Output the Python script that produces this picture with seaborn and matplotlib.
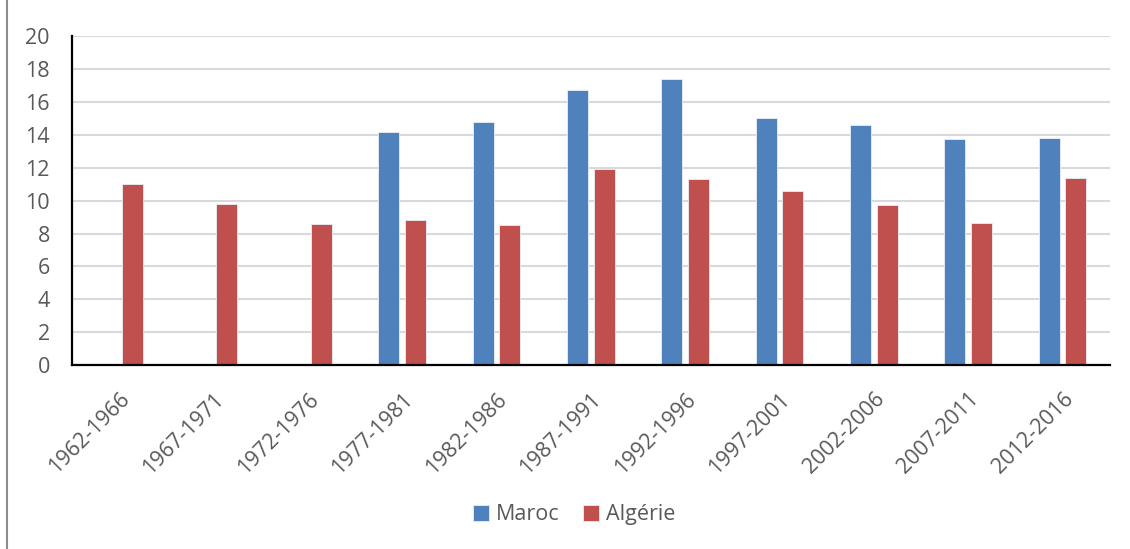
#!/usr/bin/env python3
from matplotlib import pyplot as plt
from matplotlib.lines import Line2D
import numpy as np
import pandas
import seaborn

periods = ['1962-1966', '1967-1971', '1972-1976', '1977-1981', '1982-1986', '1987-1991',
           '1992-1996', '1997-2001', '2002-2006', '2007-2011', '2012-2016']
maroc = [np.nan, np.nan, np.nan, 14.2, 14.8, 16.7, 17.4, 15.0, 14.6, 13.75, 13.8]
algerie = [11.0, 9.8, 8.6, 8.8, 8.55, 11.95, 11.3, 10.6, 9.75, 8.65, 11.4]
series = ['Maroc', 'Algérie']
colors = ['#4F81BD', '#C0504D']
yticks = list(range(0, 21, 2))

df = pandas.DataFrame({'Période': periods * 2,
                       'Pays': [series[0]] * len(periods) + [series[1]] * len(periods),
                       'Valeur': maroc + algerie})

seaborn.set_style('white')
plt.rcParams['font.family'] = ['Open Sans', 'DejaVu Sans']

fig = plt.figure(figsize=(11.3, 5.49), dpi=100)
ax = fig.add_axes([0.0637, 0.335, 0.9183, 0.599])

seaborn.barplot(df, x='Période', y='Valeur', hue='Pays', palette=colors, saturation=1,
                width=0.564, gap=0.21, edgecolor='#E8EEF6', linewidth=0.6,
                ax=ax, legend=True)

ax.set_ylim(0, 20)
ax.set_xlim(-0.5, len(periods) - 0.5)
ax.set_yticks(yticks)
ax.set_yticklabels([str(t) for t in yticks], fontsize=15.5, color='#595959')
ax.set_xticks(range(len(periods)))
ax.set_xticklabels(periods, rotation=45, ha='right', rotation_mode='anchor',
                   fontsize=15.5, color='#595959')
ax.tick_params(axis='both', length=0)
ax.tick_params(axis='x', pad=17)
ax.tick_params(axis='y', pad=16)
ax.yaxis.grid(True, color='#D9D9D9', linewidth=1.5)
ax.set_axisbelow(True)
ax.set_xlabel('')
ax.set_ylabel('')
for side in ['top', 'right']:
	ax.spines[side].set_visible(False)
for side in ['left', 'bottom']:
	ax.spines[side].set_color('black')
	ax.spines[side].set_linewidth(1.6)

handles, labels = ax.get_legend_handles_labels()
ax.get_legend().remove()
fig.legend(handles, labels, loc='center', bbox_to_anchor=(0.508, 0.062), ncol=2,
           frameon=False, fontsize=15.5, handlelength=0.75, handleheight=0.75,
           handletextpad=0.3, columnspacing=1.1, labelcolor='#595959')

# outer frame line on the left
fig.add_artist(Line2D([7 / 1130, 7 / 1130], [0, 1], color='#8C8C8C', linewidth=1.5,
                      transform=fig.transFigure))

fig.savefig('out.png', dpi=100)
